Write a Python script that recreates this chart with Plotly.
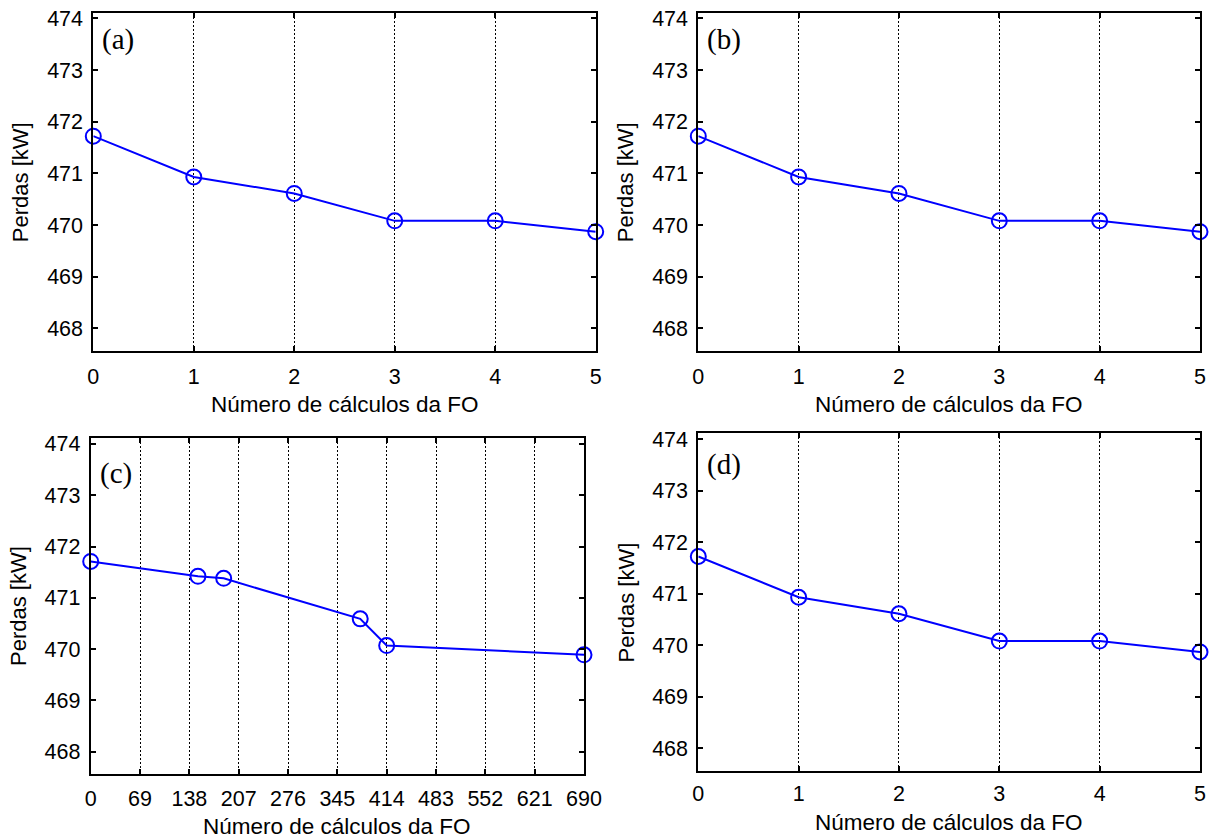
import plotly.graph_objects as go

# ---- data ----
iter_x = [0, 1, 2, 3, 4, 5]
loss_a = [471.72, 470.93, 470.61, 470.08, 470.08, 469.87]
loss_b = [471.72, 470.93, 470.61, 470.08, 470.08, 469.87]
calls_c = [0, 150, 186, 377, 414, 690]
loss_c = [471.71, 471.42, 471.38, 470.59, 470.07, 469.89]
loss_d = [471.72, 470.93, 470.61, 470.08, 470.08, 469.87]
xticks_iter = [0, 1, 2, 3, 4, 5]
xticks_c = [0, 69, 138, 207, 276, 345, 414, 483, 552, 621, 690]
yticks = [468, 469, 470, 471, 472, 473, 474]
panel_labels = ["(a)", "(b)", "(c)", "(d)"]
x_title = "Número de cálculos da FO"
y_title = "Perdas [kW]"

W, H = 1217, 838
# panel pixel boxes (left, right, top, bottom)
boxes = [(93.3, 595.7, 12.7, 351.0),
         (698.3, 1200.0, 12.7, 351.0),
         (90.7, 584.0, 438.3, 774.3),
         (698.3, 1200.0, 433.3, 771.0)]
xtitle_shift = [-53, -53, -52, -51]
xlabel_standoff = [5, 5, 4, 2]
label_y = [473.6, 473.6, 473.42, 473.5]
series = [(iter_x, loss_a, xticks_iter, [0, 5]),
          (iter_x, loss_b, xticks_iter, [0, 5]),
          (calls_c, loss_c, xticks_c, [0, 690]),
          (iter_x, loss_d, xticks_iter, [0, 5])]

SANS = "Liberation Sans, Arial, sans-serif"
SERIF = "Liberation Serif, Times New Roman, serif"
BLUE = "rgb(0,0,255)"

fig = go.Figure()
layout = dict(width=W, height=H, margin=dict(l=0, r=0, t=0, b=0),
              template="none", paper_bgcolor="white", plot_bgcolor="white",
              showlegend=False, font=dict(family=SANS, color="black"))
annotations = []

for i, ((l, r, t, b), (xs, ys, xt, xr)) in enumerate(zip(boxes, series)):
    n = i + 1
    xa = "x" if n == 1 else f"x{n}"
    ya = "y" if n == 1 else f"y{n}"
    fig.add_trace(go.Scatter(
        x=xs, y=ys, mode="lines+markers", xaxis=xa, yaxis=ya,
        line=dict(color=BLUE, width=2),
        marker=dict(symbol="circle-open", size=15, color=BLUE, line=dict(width=2, color=BLUE)),
        cliponaxis=False))
    common = dict(showline=True, linecolor="black", linewidth=2, mirror="ticks",
                  ticks="inside", ticklen=5, tickwidth=1.5, tickcolor="black",
                  tickfont=dict(family=SANS, size=21.5, color="black"),
                  zeroline=False, automargin=False, fixedrange=True)
    layout["xaxis" if n == 1 else f"xaxis{n}"] = dict(
        domain=[l / W, r / W], anchor=ya, range=xr,
        tickmode="array", tickvals=xt, ticktext=[str(v) for v in xt],
        showgrid=True, gridcolor="black", gridwidth=1.2, griddash="2px,2px",
        ticklabelstandoff=xlabel_standoff[i], **common)
    layout["yaxis" if n == 1 else f"yaxis{n}"] = dict(
        domain=[1 - b / H, 1 - t / H], anchor=xa, range=[467.56, 474.11],
        tickmode="array", tickvals=yticks, ticktext=[str(v) for v in yticks],
        showgrid=False, ticklabelstandoff=4, **common)
    xd = f"{xa} domain"
    yd = f"{ya} domain"
    annotations.append(dict(text=x_title, xref=xd, yref=yd, x=0.5, y=0,
                            xanchor="center", yanchor="middle", yshift=xtitle_shift[i],
                            showarrow=False, font=dict(family=SANS, size=22.5, color="black")))
    annotations.append(dict(text=y_title, xref=xd, yref=yd, x=0, y=0.5,
                            xanchor="center", yanchor="middle", xshift=-72, textangle=-90,
                            showarrow=False, font=dict(family=SANS, size=22, color="black")))
    annotations.append(dict(text=panel_labels[i], xref=xd, yref=ya, x=0, y=label_y[i],
                            xanchor="left", yanchor="middle", xshift=7,
                            showarrow=False, font=dict(family=SERIF, size=29, color="black")))

layout["annotations"] = annotations
fig.update_layout(**layout)
fig.write_html("out.html")
